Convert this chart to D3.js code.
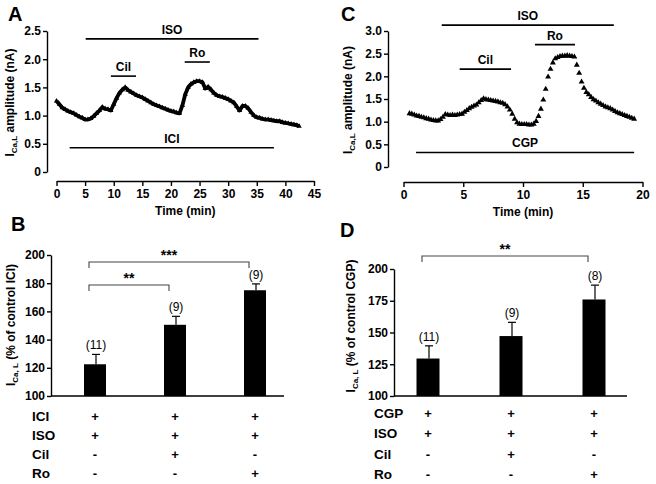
<!DOCTYPE html>
<html><head><meta charset="utf-8">
<script src="https://cdn.jsdelivr.net/npm/d3@7"></script>
<style>
body{margin:0;background:#fff;}
svg{display:block;font-family:"Liberation Sans",Arial,sans-serif;}
.tick text{font-weight:bold;font-size:12px;font-family:"Liberation Sans",Arial,sans-serif;}
.tick line,.domain{stroke:#000;stroke-width:1.4;}
</style></head>
<body>
<script>
// ---------- DATA ----------
// Panel A trace: [time (min), ICa,L amplitude (nA)]
const traceA = [
[0,1.26],[0.5,1.20],[1,1.14],[1.5,1.11],[2,1.08],[2.5,1.06],[3,1.04],[3.5,1.01],[4,0.98],[4.5,0.96],
[5,0.93],[5.5,0.93],[6,0.95],[6.5,0.99],[7,1.04],[7.5,1.09],[8,1.15],[8.5,1.12],[9,1.11],[9.5,1.09],
[10,1.20],[10.5,1.31],[11,1.40],[11.5,1.46],[12,1.50],[12.5,1.45],[13,1.42],[13.5,1.39],[14,1.36],[14.5,1.34],
[15,1.32],[15.5,1.29],[16,1.26],[16.5,1.23],[17,1.20],[17.5,1.18],[18,1.16],[18.5,1.14],[19,1.12],[19.5,1.10],
[20,1.08],[20.5,1.07],[21,1.05],[21.5,1.04],[22,1.18],[22.5,1.38],[23,1.50],[23.5,1.56],[24,1.59],[24.5,1.61],
[25,1.61],[25.5,1.59],[26,1.48],[26.5,1.51],[27,1.46],[27.5,1.40],[28,1.36],[28.5,1.34],[29,1.33],[29.5,1.31],
[30,1.29],[30.5,1.26],[31,1.23],[31.5,1.16],[32,1.09],[32.5,1.17],[33,1.17],[33.5,1.13],[34,1.06],[34.5,1.00],
[35,0.97],[35.5,0.96],[36,0.94],[36.5,0.93],[37,0.93],[37.5,0.92],[38,0.91],[38.5,0.90],[39,0.90],[39.5,0.88],
[40,0.87],[40.5,0.86],[41,0.85],[41.5,0.84],[42,0.83],[42.4,0.81]];
// Panel A drug application bars: [label, start, end, level]
const drugsA = [["ISO",5.1,35.3,2.36],["Cil",9.5,13.9,1.70],["Ro",22.4,26.8,1.95],["ICI",2.3,38.0,0.43]];
const xTicksA = [0,5,10,15,20,25,30,35,40,45];
const yTicksA = [0,0.5,1.0,1.5,2.0,2.5];

// Panel C trace
const traceC = [
[0.5,1.18],[0.7,1.17],[0.9,1.15],[1.1,1.13],[1.3,1.12],[1.5,1.10],[1.7,1.09],[1.9,1.07],[2.1,1.06],[2.3,1.04],
[2.5,1.03],[2.7,1.02],[2.9,1.02],[3.1,1.05],[3.3,1.10],[3.5,1.16],[3.7,1.15],[3.9,1.14],[4.1,1.15],[4.3,1.14],
[4.5,1.15],[4.7,1.16],[4.9,1.17],[5.1,1.21],[5.3,1.25],[5.5,1.29],[5.7,1.32],[5.9,1.35],[6.1,1.37],[6.3,1.42],
[6.5,1.47],[6.7,1.51],[6.9,1.49],[7.1,1.48],[7.3,1.47],[7.5,1.46],[7.7,1.45],[7.9,1.44],[8.1,1.42],[8.3,1.41],
[8.5,1.38],[8.7,1.33],[8.9,1.26],[9.1,1.17],[9.3,1.06],[9.5,0.98],[9.7,0.95],[9.9,0.94],[10.1,0.94],[10.3,0.94],
[10.5,0.93],[10.7,0.93],[10.9,0.95],[11.1,1.01],[11.3,1.12],[11.5,1.28],[11.7,1.48],[11.9,1.72],[12.1,1.99],[12.3,2.16],
[12.5,2.30],[12.7,2.39],[12.9,2.42],[13.1,2.44],[13.3,2.45],[13.5,2.45],[13.7,2.46],[13.9,2.45],[14.1,2.44],[14.3,2.43],
[14.5,2.25],[14.7,2.07],[14.9,1.88],[15.1,1.74],[15.3,1.65],[15.5,1.60],[15.7,1.54],[15.9,1.49],[16.1,1.46],[16.3,1.42],
[16.5,1.39],[16.7,1.36],[16.9,1.33],[17.1,1.31],[17.3,1.29],[17.5,1.26],[17.7,1.23],[17.9,1.20],[18.1,1.18],[18.3,1.16],
[18.5,1.14],[18.7,1.12],[18.9,1.10],[19.1,1.08],[19.3,1.06]];
const drugsC = [["ISO",3.2,17.6,3.13],["Cil",4.7,9.0,2.16],["Ro",11.0,14.35,2.70],["CGP",1.05,19.3,0.32]];
const xTicksC = [0,5,10,15,20];
const yTicksC = [0,0.5,1.0,1.5,2.0,2.5,3.0];

// Panel B bars
const groupsB = ["g1","g2","g3"];
const meansB = [122.5,150.5,175];
const errB = [7,6,4.5];
const nB = ["(11)","(9)","(9)"];
const yTicksB = [100,120,140,160,180,200];
const rowsB = ["ICI","ISO","Cil","Ro"];
const signsB = [["+","+","+"],["+","+","+"],["-","+","-"],["-","-","+"]];
const bracketsB = [[0,1,"**",178.7],[0,2,"***",195]];

// Panel D bars
const groupsD = ["g1","g2","g3"];
const meansD = [129.5,147.2,176];
const errD = [10,10.8,11.3];
const nD = ["(11)","(9)","(8)"];
const yTicksD = [100,125,150,175,200];
const rowsD = ["CGP","ISO","Cil","Ro"];
const signsD = [["+","+","+"],["+","+","+"],["-","+","-"],["-","-","+"]];
const bracketsD = [[0,2,"**",210.2]];

// ---------- DRAW ----------
const svg = d3.select("body").append("svg").attr("width",656).attr("height",484);
svg.append("rect").attr("width",656).attr("height",484).attr("fill","#fff");

function letter(t,x,y){svg.append("text").attr("x",x).attr("y",y).text(t)
  .attr("font-size",20).attr("font-weight","bold");}
letter("A",8,21); letter("B",11,231); letter("C",341,21); letter("D",340,237);

function ylabel(g,cx,cy,sub,rest){
  const t=g.append("text").attr("transform",`translate(${cx},${cy}) rotate(-90)`)
    .attr("text-anchor","middle").attr("font-size",12).attr("font-weight","bold");
  t.append("tspan").text("I");
  t.append("tspan").text(sub).attr("font-size",8).attr("dy",3);
  t.append("tspan").text(rest).attr("dy",-3);
}

function tracePanel(o){
  const g = svg.append("g");
  const x = d3.scaleLinear().domain(o.xd).range(o.xr);
  const y = d3.scaleLinear().domain(o.yd).range(o.yr);
  g.append("g").attr("transform",`translate(${o.yAxisX},0)`)
    .call(d3.axisLeft(y).tickValues(o.yTicks).tickSize(4).tickSizeOuter(0).tickPadding(2)
      .tickFormat(d=>d===0?"0":d.toFixed(1)));
  g.append("g").attr("transform",`translate(0,${o.xAxisY})`)
    .call(d3.axisBottom(x).tickValues(o.xTicks).tickSize(5).tickSizeOuter(0).tickPadding(3).tickFormat(d3.format("d")));
  // trace
  const line = d3.line().x(d=>x(d[0])).y(d=>y(d[1]));
  if(o.lw>0) g.append("path").datum(o.trace).attr("d",line).attr("fill","none")
    .attr("stroke","#000").attr("stroke-width",o.lw).attr("stroke-linejoin","round");
  g.selectAll("path.pt").data(o.trace).join("path").attr("class","pt")
    .attr("d",d3.symbol(d3.symbolTriangle,o.sym))
    .attr("transform",d=>`translate(${x(d[0])},${y(d[1])})`).attr("fill","#000");
  // drug bars
  o.drugs.forEach(dr=>{
    g.append("line").attr("x1",x(dr[1])).attr("x2",x(dr[2])).attr("y1",y(dr[3])).attr("y2",y(dr[3]))
      .attr("stroke","#000").attr("stroke-width",1.6);
    g.append("text").attr("x",(x(dr[1])+x(dr[2]))/2).attr("y",y(dr[3])-5).attr("text-anchor","middle")
      .attr("font-size",12).attr("font-weight","bold").text(dr[0]);
  });
  g.append("text").attr("x",(o.xr[0]+o.xr[1])/2).attr("y",o.xAxisY+34).attr("text-anchor","middle")
    .attr("font-size",12).attr("font-weight","bold").text("Time (min)");
  ylabel(g,o.ylx,(o.yr[0]+o.yr[1])/2+1,"Ca,L"," amplitude (nA)");
}

tracePanel({xd:[0,45],xr:[56.5,314],yd:[0,2.5],yr:[172,31],yAxisX:47,xAxisY:181,
  yTicks:yTicksA,xTicks:xTicksA,trace:traceA,drugs:drugsA,lw:3.8,sym:12,ylx:14});
tracePanel({xd:[0,20],xr:[403.5,642.5],yd:[0,3],yr:[167,31],yAxisX:388,xAxisY:182,
  yTicks:yTicksC,xTicks:xTicksC,trace:traceC,drugs:drugsC,lw:0,sym:15,ylx:352});

function barPanel(o){
  const g = svg.append("g");
  const x = d3.scalePoint().domain(o.groups).range(o.xr);
  const y = d3.scaleLinear().domain([100,200]).range(o.yr);
  g.append("g").attr("transform",`translate(${o.yAxisX},0)`)
    .call(d3.axisLeft(y).tickValues(o.yTicks).tickSize(4).tickSizeOuter(0).tickPadding(2));
  g.append("line").attr("x1",o.yAxisX).attr("x2",o.xEnd).attr("y1",o.yr[0]).attr("y2",o.yr[0])
    .attr("stroke","#000").attr("stroke-width",1.6);
  o.groups.forEach((k,i)=>{
    const cx=x(k);
    g.append("rect").attr("x",cx-o.bw/2).attr("width",o.bw).attr("y",y(o.means[i]))
      .attr("height",y(100)-y(o.means[i])).attr("fill","#000");
    const top=y(o.means[i]+o.err[i]);
    g.append("line").attr("x1",cx+1).attr("x2",cx+1).attr("y1",y(o.means[i])).attr("y2",top)
      .attr("stroke","#000").attr("stroke-width",1.2);
    g.append("line").attr("x1",cx-3).attr("x2",cx+5).attr("y1",top).attr("y2",top)
      .attr("stroke","#000").attr("stroke-width",1.2);
    g.append("text").attr("x",cx+1).attr("y",top-5).attr("text-anchor","middle")
      .attr("font-size",12).text(o.n[i]);
    o.signs.forEach((row,r)=>{
      g.append("text").attr("x",cx).attr("y",o.rowY[r]).attr("text-anchor","middle")
        .attr("font-size",13).attr("font-weight","bold").text(row[i]);
    });
  });
  o.rows.forEach((r,ri)=>g.append("text").attr("x",o.rowX).attr("y",o.rowY[ri])
    .attr("font-size",13.5).attr("font-weight","bold").text(r));
  o.brackets.forEach(b=>{
    const x1=x(o.groups[b[0]])-6, x2=x(o.groups[b[1]])-6, yy=y(b[3]);
    g.append("path").attr("d",`M${x1},${yy+6}V${yy}H${x2}V${yy+6}`).attr("fill","none")
      .attr("stroke","#444").attr("stroke-width",1.1);
    g.append("text").attr("x",(x1+x2)/2).attr("y",yy-2).attr("text-anchor","middle")
      .attr("font-size",14).attr("font-weight","bold").text(b[2]);
  });
  ylabel(g,o.ylx,o.lcy,"Ca, L",o.ltext);
}

barPanel({groups:groupsB,xr:[95,255],yr:[396,255],yAxisX:51,xEnd:284,yTicks:yTicksB,bw:22,
  means:meansB,err:errB,n:nB,rows:rowsB,signs:signsB,rowX:32,rowY:[421,440,459,478],
  brackets:bracketsB,ylx:15,lcy:325,ltext:" (% of control ICI)"});
barPanel({groups:groupsD,xr:[428,594],yr:[396,269],yAxisX:394,xEnd:627,yTicks:yTicksD,bw:23,
  means:meansD,err:errD,n:nD,rows:rowsD,signs:signsD,rowX:374,rowY:[418,438,459,479],
  brackets:bracketsD,ylx:355,lcy:326,ltext:" (% of control CGP)"});
</script>
</body></html>
